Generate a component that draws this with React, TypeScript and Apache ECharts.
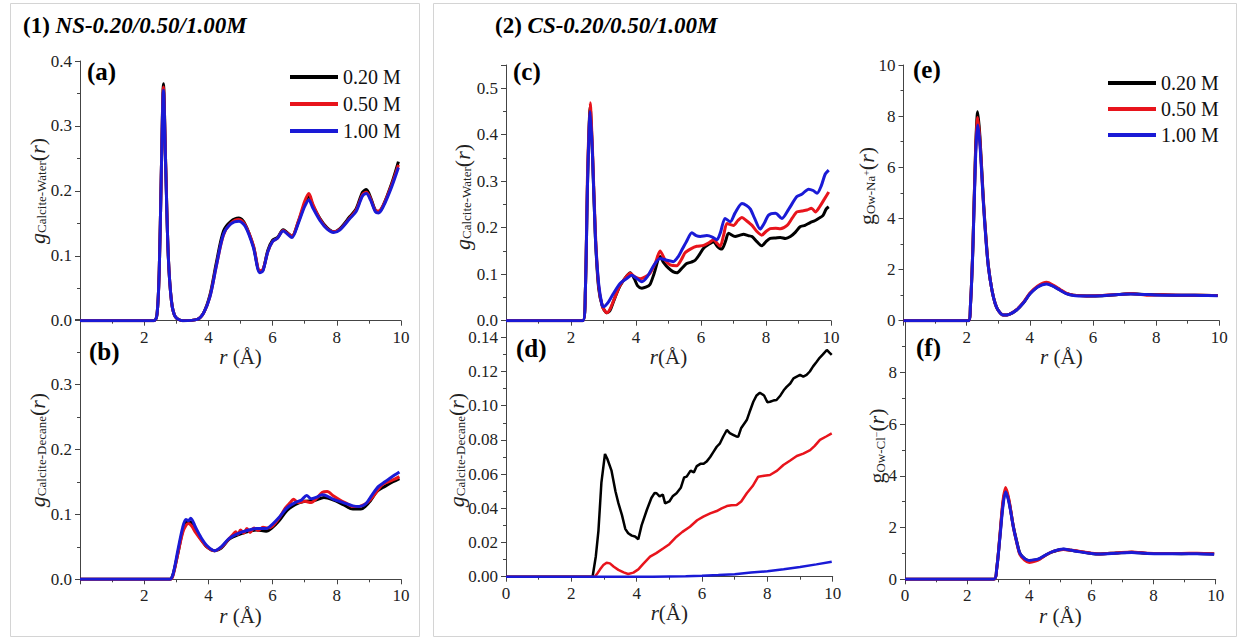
import React, { useEffect, useRef } from "react";
import * as echarts from "echarts";

const FONT = "'Liberation Serif','Times New Roman',serif";
const NAMES = ["0.20 M", "0.50 M", "1.00 M"];
const COLORS = ["#000000", "#e8141c", "#1a1ad6"];

// Panel (a) g Calcite-Water, NS
const a020 = [[0,0],[2.3,0],[2.4,0.01],[2.47,0.08],[2.53,0.22],[2.6,0.365],[2.67,0.24],[2.75,0.1],[2.85,0.03],[2.97,0.006],[3.2,0],[3.65,0.002],[3.85,0.012],[4.05,0.04],[4.25,0.09],[4.47,0.138],[4.7,0.153],[4.95,0.158],[5.15,0.148],[5.4,0.115],[5.6,0.076],[5.7,0.078],[5.85,0.108],[6.0,0.124],[6.15,0.128],[6.33,0.14],[6.45,0.136],[6.6,0.13],[6.8,0.152],[7.0,0.18],[7.13,0.192],[7.25,0.178],[7.48,0.157],[7.7,0.143],[7.9,0.137],[8.1,0.142],[8.4,0.16],[8.6,0.172],[8.8,0.198],[8.92,0.202],[9.05,0.19],[9.2,0.17],[9.3,0.168],[9.45,0.178],[9.7,0.21],[9.92,0.245]];
const a050 = [[0,0],[2.3,0],[2.4,0.01],[2.47,0.08],[2.53,0.22],[2.6,0.36],[2.67,0.24],[2.75,0.1],[2.85,0.03],[2.97,0.006],[3.2,0],[3.65,0.002],[3.85,0.012],[4.05,0.038],[4.25,0.085],[4.47,0.132],[4.7,0.15],[4.95,0.156],[5.15,0.147],[5.4,0.116],[5.6,0.077],[5.7,0.079],[5.85,0.106],[6.0,0.122],[6.15,0.127],[6.33,0.139],[6.45,0.135],[6.6,0.13],[6.8,0.153],[7.0,0.184],[7.13,0.196],[7.25,0.18],[7.48,0.156],[7.7,0.142],[7.9,0.137],[8.1,0.141],[8.4,0.158],[8.6,0.17],[8.8,0.194],[8.92,0.198],[9.05,0.188],[9.2,0.17],[9.3,0.169],[9.45,0.178],[9.7,0.208],[9.92,0.24]];
const a100 = [[0,0],[2.3,0],[2.4,0.01],[2.47,0.08],[2.53,0.22],[2.6,0.355],[2.67,0.235],[2.75,0.1],[2.85,0.03],[2.97,0.006],[3.2,0],[3.65,0.002],[3.85,0.012],[4.05,0.037],[4.25,0.085],[4.47,0.133],[4.7,0.149],[4.95,0.153],[5.15,0.145],[5.4,0.113],[5.6,0.074],[5.7,0.077],[5.85,0.106],[6.0,0.122],[6.15,0.127],[6.33,0.138],[6.45,0.134],[6.6,0.128],[6.8,0.15],[7.0,0.176],[7.13,0.186],[7.25,0.174],[7.48,0.154],[7.7,0.141],[7.9,0.136],[8.1,0.14],[8.4,0.157],[8.6,0.168],[8.8,0.192],[8.92,0.196],[9.05,0.186],[9.2,0.168],[9.3,0.166],[9.45,0.176],[9.7,0.205],[9.92,0.236]];

// Panel (b) g Calcite-Decane, NS
const b020 = [[0,0],[2.8,0],[2.9,0.008],[3.05,0.04],[3.2,0.075],[3.33,0.088],[3.45,0.088],[3.6,0.075],[3.75,0.063],[3.95,0.05],[4.2,0.044],[4.4,0.048],[4.65,0.062],[4.9,0.068],[5.2,0.073],[5.5,0.076],[5.8,0.074],[6.0,0.08],[6.2,0.09],[6.45,0.106],[6.7,0.115],[7.0,0.12],[7.3,0.121],[7.6,0.126],[7.9,0.122],[8.2,0.115],[8.5,0.108],[8.75,0.108],[9.0,0.118],[9.25,0.135],[9.5,0.143],[9.75,0.15],[9.95,0.155]];
const b050 = [[0,0],[2.82,0],[2.9,0.006],[3.05,0.04],[3.2,0.072],[3.3,0.083],[3.38,0.086],[3.48,0.082],[3.6,0.072],[3.75,0.062],[3.95,0.05],[4.2,0.044],[4.4,0.049],[4.6,0.06],[4.75,0.068],[4.85,0.073],[4.92,0.069],[5.0,0.076],[5.1,0.071],[5.2,0.078],[5.3,0.072],[5.42,0.079],[5.55,0.075],[5.7,0.08],[5.85,0.079],[6.0,0.082],[6.2,0.094],[6.4,0.11],[6.55,0.118],[6.65,0.123],[6.8,0.118],[7.0,0.12],[7.2,0.118],[7.4,0.126],[7.55,0.134],[7.7,0.135],[7.9,0.128],[8.1,0.122],[8.3,0.117],[8.5,0.112],[8.7,0.112],[8.85,0.115],[9.0,0.12],[9.2,0.132],[9.4,0.145],[9.6,0.15],[9.8,0.154],[9.95,0.158]];
const b100 = [[0,0],[2.8,0],[2.9,0.008],[3.05,0.045],[3.2,0.08],[3.3,0.092],[3.38,0.09],[3.45,0.094],[3.6,0.08],[3.75,0.066],[3.95,0.052],[4.2,0.044],[4.4,0.05],[4.65,0.063],[4.9,0.07],[5.2,0.075],[5.5,0.078],[5.8,0.078],[6.0,0.085],[6.2,0.095],[6.45,0.11],[6.7,0.118],[6.9,0.122],[7.06,0.129],[7.2,0.124],[7.35,0.126],[7.55,0.13],[7.7,0.128],[7.9,0.123],[8.2,0.118],[8.5,0.113],[8.7,0.112],[8.9,0.116],[9.1,0.13],[9.3,0.143],[9.5,0.15],[9.7,0.157],[9.95,0.165]];

// Panel (c) g Calcite-Water, CS
const c020 = [[0,0],[2.36,0],[2.44,0.06],[2.51,0.3],[2.59,0.46],[2.66,0.36],[2.75,0.18],[2.85,0.07],[2.97,0.03],[3.1,0.017],[3.2,0.022],[3.3,0.04],[3.46,0.068],[3.6,0.085],[3.82,0.103],[3.95,0.09],[4.05,0.075],[4.18,0.07],[4.3,0.072],[4.43,0.078],[4.55,0.1],[4.74,0.138],[4.85,0.125],[5.0,0.113],[5.15,0.105],[5.26,0.103],[5.4,0.112],[5.56,0.123],[5.7,0.126],[5.82,0.13],[5.95,0.142],[6.08,0.156],[6.25,0.165],[6.39,0.17],[6.5,0.16],[6.64,0.154],[6.75,0.17],[6.85,0.188],[7.05,0.181],[7.2,0.184],[7.31,0.186],[7.45,0.183],[7.57,0.181],[7.72,0.17],[7.87,0.161],[8.0,0.17],[8.13,0.177],[8.3,0.178],[8.44,0.179],[8.6,0.177],[8.75,0.181],[8.9,0.19],[9.05,0.202],[9.2,0.205],[9.36,0.211],[9.5,0.215],[9.62,0.22],[9.75,0.226],[9.85,0.24],[9.93,0.245]];
const c050 = [[0,0],[2.36,0],[2.44,0.06],[2.51,0.32],[2.59,0.469],[2.66,0.37],[2.75,0.19],[2.85,0.075],[2.97,0.03],[3.1,0.017],[3.2,0.025],[3.35,0.05],[3.5,0.075],[3.65,0.09],[3.82,0.102],[3.95,0.095],[4.13,0.09],[4.3,0.095],[4.43,0.102],[4.6,0.125],[4.74,0.15],[4.9,0.13],[5.05,0.12],[5.25,0.118],[5.4,0.132],[5.51,0.146],[5.7,0.155],[5.87,0.16],[6.08,0.162],[6.25,0.168],[6.39,0.174],[6.5,0.166],[6.59,0.16],[6.7,0.185],[6.8,0.209],[7.0,0.205],[7.13,0.215],[7.26,0.222],[7.4,0.215],[7.57,0.205],[7.72,0.192],[7.87,0.184],[8.0,0.192],[8.13,0.198],[8.3,0.199],[8.44,0.198],[8.65,0.205],[8.8,0.22],[8.95,0.234],[9.1,0.236],[9.26,0.238],[9.4,0.242],[9.52,0.234],[9.65,0.245],[9.8,0.262],[9.93,0.277]];
const c100 = [[0,0],[2.36,0],[2.44,0.06],[2.51,0.3],[2.59,0.45],[2.66,0.36],[2.75,0.18],[2.85,0.08],[2.95,0.035],[3.0,0.03],[3.15,0.04],[3.3,0.058],[3.51,0.08],[3.7,0.09],[3.87,0.098],[4.0,0.092],[4.18,0.084],[4.35,0.095],[4.54,0.118],[4.74,0.134],[4.95,0.13],[5.15,0.127],[5.3,0.138],[5.41,0.152],[5.55,0.17],[5.72,0.189],[5.85,0.183],[5.98,0.181],[6.18,0.183],[6.35,0.18],[6.49,0.174],[6.6,0.19],[6.74,0.22],[6.9,0.213],[7.05,0.232],[7.26,0.252],[7.4,0.248],[7.52,0.24],[7.65,0.22],[7.82,0.197],[7.95,0.21],[8.08,0.227],[8.29,0.231],[8.49,0.22],[8.7,0.24],[8.95,0.267],[9.1,0.272],[9.31,0.283],[9.45,0.28],[9.57,0.274],[9.7,0.29],[9.82,0.315],[9.93,0.324]];

// Panel (d) g Calcite-Decane, CS
const d020 = [[0,0],[2.65,0],[2.75,0.012],[2.83,0.027],[2.92,0.055],[3.03,0.0718],[3.1,0.069],[3.23,0.062],[3.35,0.05],[3.44,0.043],[3.55,0.036],[3.65,0.028],[3.74,0.0254],[3.85,0.024],[3.95,0.0235],[4.05,0.0219],[4.15,0.03],[4.31,0.039],[4.45,0.046],[4.55,0.049],[4.61,0.0488],[4.7,0.047],[4.8,0.048],[4.87,0.0429],[5.0,0.044],[5.1,0.047],[5.22,0.0488],[5.35,0.052],[5.45,0.058],[5.53,0.0585],[5.65,0.062],[5.75,0.061],[5.84,0.0647],[5.95,0.066],[6.05,0.066],[6.14,0.0673],[6.25,0.07],[6.35,0.073],[6.45,0.076],[6.55,0.078],[6.65,0.082],[6.76,0.0858],[6.85,0.084],[6.95,0.083],[7.05,0.082],[7.11,0.0819],[7.2,0.087],[7.37,0.0916],[7.45,0.096],[7.57,0.1023],[7.67,0.106],[7.77,0.1076],[7.9,0.106],[8.0,0.102],[8.08,0.1023],[8.18,0.103],[8.28,0.1033],[8.4,0.106],[8.5,0.109],[8.59,0.111],[8.7,0.113],[8.8,0.116],[8.9,0.117],[9.0,0.118],[9.1,0.117],[9.2,0.118],[9.3,0.12],[9.4,0.123],[9.51,0.1257],[9.6,0.128],[9.7,0.13],[9.82,0.1326],[9.9,0.131],[9.97,0.1297]];
const d050 = [[0,0],[2.72,0],[2.8,0.002],[2.88,0.0043],[2.98,0.0068],[3.08,0.0082],[3.18,0.0078],[3.3,0.0058],[3.44,0.004],[3.6,0.0025],[3.74,0.0016],[3.9,0.0024],[4.05,0.0043],[4.2,0.0075],[4.41,0.0117],[4.6,0.0138],[4.82,0.0166],[5.0,0.019],[5.22,0.0234],[5.4,0.0262],[5.63,0.0292],[5.85,0.033],[6.04,0.0351],[6.25,0.037],[6.45,0.0384],[6.6,0.04],[6.76,0.0413],[6.9,0.0418],[7.06,0.0419],[7.2,0.044],[7.37,0.0488],[7.55,0.053],[7.72,0.0585],[7.9,0.059],[8.08,0.0595],[8.3,0.062],[8.49,0.0653],[8.7,0.068],[8.9,0.0706],[9.1,0.072],[9.31,0.074],[9.45,0.0765],[9.61,0.08],[9.8,0.082],[9.97,0.0838]];
const d100 = [[0,0],[4.5,0],[5.5,0.0003],[6.0,0.0006],[6.5,0.001],[7.0,0.0015],[7.5,0.0024],[8.0,0.0032],[8.5,0.0044],[9.0,0.0057],[9.5,0.0072],[9.97,0.0088]];

// Panel (e) g Ow-Na+
const e020 = [[0,0],[2.05,0],[2.12,0.6],[2.2,3.0],[2.28,6.6],[2.35,8.17],[2.42,7.2],[2.53,4.72],[2.62,3.1],[2.69,2.11],[2.8,1.2],[2.9,0.68],[3.0,0.4],[3.16,0.22],[3.35,0.25],[3.58,0.42],[3.8,0.7],[4.0,1.05],[4.25,1.33],[4.53,1.46],[4.75,1.35],[4.96,1.2],[5.15,1.07],[5.38,1.0],[5.8,0.97],[6.3,0.98],[6.8,1.02],[7.2,1.05],[7.7,1.02],[8.2,1.01],[8.8,1.0],[9.4,1.0],[9.95,0.99]];
const e050 = [[0,0],[2.05,0],[2.12,0.6],[2.2,3.0],[2.28,6.5],[2.35,7.95],[2.42,7.05],[2.53,4.65],[2.62,3.05],[2.69,2.1],[2.8,1.2],[2.9,0.68],[3.0,0.4],[3.16,0.22],[3.35,0.25],[3.58,0.43],[3.8,0.72],[4.0,1.07],[4.25,1.36],[4.53,1.5],[4.75,1.38],[4.96,1.22],[5.15,1.08],[5.38,1.0],[5.8,0.97],[6.3,0.99],[6.8,1.02],[7.2,1.06],[7.7,1.0],[8.2,1.01],[8.8,1.0],[9.4,1.0],[9.95,0.99]];
const e100 = [[0,0],[2.05,0],[2.12,0.6],[2.2,2.9],[2.28,6.3],[2.35,7.65],[2.42,6.9],[2.53,4.6],[2.62,3.0],[2.69,2.08],[2.8,1.2],[2.9,0.68],[3.0,0.4],[3.16,0.22],[3.35,0.25],[3.58,0.42],[3.8,0.7],[4.0,1.04],[4.25,1.32],[4.53,1.44],[4.75,1.34],[4.96,1.19],[5.15,1.06],[5.38,0.99],[5.8,0.97],[6.3,0.98],[6.8,1.02],[7.2,1.04],[7.7,1.02],[8.2,1.0],[8.8,1.0],[9.4,0.99],[9.95,0.98]];

// Panel (f) g Ow-Cl-
const f020 = [[0,0],[2.86,0],[2.95,0.4],[3.05,1.6],[3.15,2.9],[3.24,3.45],[3.35,3.0],[3.49,2.03],[3.6,1.45],[3.7,1.0],[3.85,0.8],[4.0,0.72],[4.2,0.75],[4.34,0.8],[4.55,0.95],[4.77,1.07],[5.1,1.16],[5.35,1.12],[5.63,1.07],[6.0,1.0],[6.28,0.98],[6.8,1.02],[7.3,1.05],[7.8,1.0],[8.3,1.0],[8.9,0.99],[9.4,1.0],[9.95,0.98]];
const f050 = [[0,0],[2.86,0],[2.95,0.4],[3.05,1.65],[3.15,3.0],[3.24,3.55],[3.35,3.05],[3.49,2.0],[3.6,1.4],[3.7,0.95],[3.85,0.74],[4.0,0.65],[4.2,0.7],[4.34,0.78],[4.55,0.95],[4.77,1.08],[5.1,1.15],[5.35,1.12],[5.63,1.08],[6.0,1.01],[6.28,0.98],[6.8,1.02],[7.3,1.06],[7.8,1.01],[8.3,1.0],[8.9,1.0],[9.4,1.01],[9.95,0.99]];
const f100 = [[0,0],[2.86,0],[2.95,0.4],[3.05,1.55],[3.15,2.8],[3.24,3.38],[3.35,2.95],[3.49,2.0],[3.6,1.42],[3.7,1.0],[3.85,0.8],[4.0,0.73],[4.2,0.76],[4.34,0.81],[4.55,0.96],[4.77,1.08],[5.1,1.17],[5.35,1.12],[5.63,1.06],[6.0,1.0],[6.28,0.98],[6.8,1.01],[7.3,1.04],[7.8,1.0],[8.3,0.99],[8.9,0.99],[9.4,0.99],[9.95,0.97]];

const PANELS = [
  { grid: { left: 80, top: 61, width: 321, height: 259.7 }, data: [a020, a050, a100], yMax: 0.4, yInt: 0.1, dec: 1, showMinX: false, showMaxY: true, xName: " (Å)", smooth: 0.3, w: 3 },
  { grid: { left: 80, top: 319.3, width: 321, height: 260 }, data: [b020, b050, b100], yMax: 0.4, yInt: 0.1, dec: 1, showMinX: false, showMaxY: false, xName: " (Å)", smooth: 0.3, w: 3 },
  { grid: { left: 506, top: 65, width: 325, height: 255.7 }, data: [c020, c050, c100], yMax: 0.55, yInt: 0.1, dec: 1, showMinX: false, showMaxY: false, xName: "(Å)", smooth: 0.25, w: 3 },
  { grid: { left: 506, top: 320.2, width: 326.7, height: 256.5 }, data: [d020, d050, d100], yMax: 0.15, yInt: 0.02, dec: 2, showMinX: true, showMaxY: false, xName: "(Å)", smooth: false, w: 2.5 },
  { grid: { left: 903.5, top: 65, width: 315.8, height: 255.7 }, data: [e020, e050, e100], yMax: 10, yInt: 2, dec: 0, showMinX: false, showMaxY: true, xName: " (Å)", smooth: 0.3, w: 3 },
  { grid: { left: 905, top: 320.6, width: 310.7, height: 258.7 }, data: [f020, f050, f100], yMax: 10, yInt: 2, dec: 0, showMinX: true, showMaxY: false, xName: " (Å)", smooth: 0.3, w: 3 },
];

const AX = "#444";
const LBL = "#222";

const yRich = {
  g: { fontFamily: FONT, fontSize: 22, fontStyle: "italic", lineHeight: 22, verticalAlign: "middle", fill: LBL },
  gu: { fontFamily: FONT, fontSize: 22, lineHeight: 22, verticalAlign: "middle", fill: LBL },
  s: { fontFamily: FONT, fontSize: 13, lineHeight: 13, verticalAlign: "bottom", fill: LBL },
  sp: { fontFamily: FONT, fontSize: 10, lineHeight: 22, verticalAlign: "middle", fill: LBL },
  p: { fontFamily: FONT, fontSize: 22, lineHeight: 22, verticalAlign: "middle", fill: LBL },
  r: { fontFamily: FONT, fontSize: 22, fontStyle: "italic", lineHeight: 22, verticalAlign: "middle", fill: LBL },
};

const Y_TITLES = [
  { x: 37, y: 191, text: "{g|g}{s|Calcite-Water}{p|(}{r|r}{p|)}" },
  { x: 37, y: 450, text: "{g|g}{s|Calcite-Decane}{p|(}{r|r}{p|)}" },
  { x: 462, y: 197, text: "{g|g}{s|Calcite-Water}{p|(}{r|r}{p|)}" },
  { x: 456, y: 450, text: "{g|g}{s|Calcite-Decane}{p|(}{r|r}{p|)}" },
  { x: 866, y: 186, text: "{gu|g}{s|Ow-Na}{sp|+}{p|(}{r|r}{p|)}" },
  { x: 876, y: 446, text: "{gu|g}{s|Ow-Cl}{sp|−}{p|(}{r|r}{p|)}" },
];

const LETTERS = [
  { x: 87, y: 71, t: "(a)" },
  { x: 89, y: 351, t: "(b)" },
  { x: 513, y: 71, t: "(c)" },
  { x: 516, y: 348, t: "(d)" },
  { x: 913, y: 69, t: "(e)" },
  { x: 916, y: 347, t: "(f)" },
];

export default function App() {
  const ref = useRef<HTMLDivElement>(null);
  useEffect(() => {
    if (!ref.current) return;
    const chart = echarts.init(ref.current, null, { renderer: "svg" });
    const grids: any[] = [];
    const xAxes: any[] = [];
    const yAxes: any[] = [];
    const series: any[] = [];
    PANELS.forEach((p, i) => {
      grids.push({ ...p.grid });
      xAxes.push({
        type: "value", gridIndex: i, min: 0, max: 10, interval: 2,
        axisLine: { show: true, onZero: false, lineStyle: { color: AX, width: 1 } },
        axisTick: { show: true, length: 5, lineStyle: { color: AX } },
        minorTick: { show: true, splitNumber: 2, length: 3, lineStyle: { color: AX } },
        splitLine: { show: false },
        axisLabel: { fontFamily: FONT, fontSize: 17, color: LBL, margin: 8, showMinLabel: p.showMinX, showMaxLabel: true },
        name: "{i|r}{n|" + p.xName + "}",
        nameLocation: "middle", nameGap: 19,
        nameTextStyle: {
          fontFamily: FONT, fontSize: 21, color: LBL,
          rich: { i: { fontFamily: FONT, fontSize: 21, fontStyle: "italic", color: LBL }, n: { fontFamily: FONT, fontSize: 21, color: LBL } },
        },
      });
      yAxes.push({
        type: "value", gridIndex: i, min: 0, max: p.yMax, interval: p.yInt,
        axisLine: { show: true, onZero: false, lineStyle: { color: AX, width: 1 } },
        axisTick: { show: true, length: 5, lineStyle: { color: AX } },
        minorTick: { show: true, splitNumber: 2, length: 3, lineStyle: { color: AX } },
        splitLine: { show: false },
        axisLabel: {
          fontFamily: FONT, fontSize: 17, color: LBL, margin: 8, showMaxLabel: p.showMaxY,
          formatter: (v: number) => v.toFixed(p.dec),
        },
      });
      p.data.forEach((d, k) => {
        series.push({
          type: "line", name: NAMES[k], xAxisIndex: i, yAxisIndex: i, data: d,
          showSymbol: false, symbol: "none", smooth: p.smooth,
          lineStyle: { color: COLORS[k], width: p.w },
          itemStyle: { color: COLORS[k] },
          z: 2 + k,
        });
      });
    });

    const titleRich = {
      a: { fontFamily: FONT, fontSize: 23, fontWeight: "bold", fill: "#000" },
      b: { fontFamily: FONT, fontSize: 23, fontWeight: "bold", fontStyle: "italic", fill: "#000" },
    };

    const graphics: any[] = [
      { type: "rect", shape: { x: 10.5, y: 3.5, width: 409, height: 633 }, style: { fill: "none", stroke: "#d4d4d4", lineWidth: 1 }, silent: true },
      { type: "rect", shape: { x: 433.5, y: 3.5, width: 803, height: 633 }, style: { fill: "none", stroke: "#d4d4d4", lineWidth: 1 }, silent: true },
      { type: "text", x: 23, y: 25, style: { text: "{a|(1) }{b|NS-0.20/0.50/1.00M}", verticalAlign: "middle", align: "left", rich: titleRich } },
      { type: "text", x: 495, y: 25, style: { text: "{a|(2) }{b|CS-0.20/0.50/1.00M}", verticalAlign: "middle", align: "left", rich: titleRich } },
      ...LETTERS.map((l) => ({
        type: "text", x: l.x, y: l.y,
        style: { text: l.t, fontFamily: FONT, fontSize: 25, fontWeight: "bold", fill: "#000", align: "left", verticalAlign: "middle" },
      })),
      ...Y_TITLES.map((t) => ({
        type: "text", x: t.x, y: t.y, rotation: Math.PI / 2,
        style: { text: t.text, rich: yRich, align: "center", verticalAlign: "middle" },
      })),
    ];

    const legendBase = {
      orient: "vertical", icon: "rect", itemWidth: 48, itemHeight: 4,
      data: NAMES, selectedMode: false,
      textStyle: { fontFamily: FONT, fontSize: 20, color: "#111", lineHeight: 22 },
    };

    chart.setOption({
      animation: false,
      backgroundColor: "#ffffff",
      grid: grids,
      xAxis: xAxes,
      yAxis: yAxes,
      series,
      legend: [
        { ...legendBase, left: 285, top: 61, itemGap: 5 },
        { ...legendBase, left: 1103, top: 67, itemGap: 4 },
      ],
      graphic: graphics,
    });
    return () => chart.dispose();
  }, []);
  return (
    <div
      ref={ref}
      style={{ position: "absolute", left: 0, top: 0, width: 1238, height: 641, background: "#fff" }}
    />
  );
}
